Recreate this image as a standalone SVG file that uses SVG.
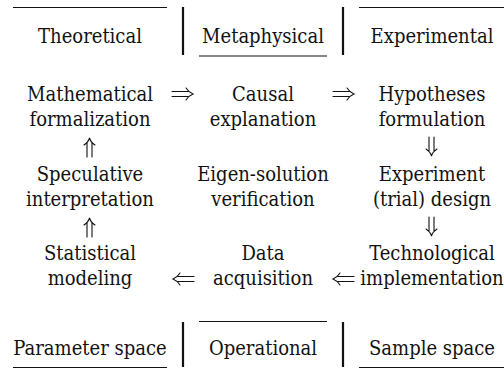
<svg xmlns="http://www.w3.org/2000/svg" width="504" height="369" viewBox="0 0 504 369">
<style>
text{font-family:"DejaVu Serif Condensed","DejaVu Serif",serif;font-stretch:condensed;font-size:20px;fill:#111;text-anchor:middle}
.rule{stroke:#111;stroke-width:1.2;fill:none}
.bar{stroke:#111;stroke-width:2.2;fill:none}
.arr{stroke:#111;stroke-width:1.1;fill:none;stroke-linecap:round}
</style>
<rect width="504" height="369" fill="#fff"/>
<g id="header">
  <line class="rule" x1="13" y1="7.5" x2="167" y2="7.5"/>
  <line class="bar" x1="183" y1="7" x2="183" y2="55"/>
  <line class="rule" x1="199" y1="56" x2="327" y2="56"/>
  <line class="bar" x1="343" y1="7" x2="343" y2="55"/>
  <line class="rule" x1="359" y1="7.5" x2="504" y2="7.5"/>
  <text x="90" y="43">Theoretical</text>
  <text x="263" y="43">Metaphysical</text>
  <text x="432" y="43">Experimental</text>
</g>
<g id="footer">
  <line class="rule" x1="13" y1="367.5" x2="167" y2="367.5"/>
  <line class="bar" x1="183" y1="322" x2="183" y2="367"/>
  <line class="rule" x1="199" y1="321.5" x2="327" y2="321.5"/>
  <line class="bar" x1="343" y1="322" x2="343" y2="367"/>
  <line class="rule" x1="359" y1="367.5" x2="504" y2="367.5"/>
  <text x="90" y="355">Parameter space</text>
  <text x="263" y="355">Operational</text>
  <text x="432" y="355">Sample space</text>
</g>
<g id="mathematical-formalization"><text x="90" y="101">Mathematical</text><text x="90" y="126">formalization</text></g>
<g id="causal-explanation"><text x="263" y="101">Causal</text><text x="263" y="126">explanation</text></g>
<g id="hypotheses-formulation"><text x="432" y="101">Hypotheses</text><text x="432" y="126">formulation</text></g>
<g id="speculative-interpretation"><text x="90" y="181">Speculative</text><text x="90" y="206">interpretation</text></g>
<g id="eigen-solution-verification"><text x="263" y="181">Eigen-solution</text><text x="263" y="206">verification</text></g>
<g id="experiment-design"><text x="432" y="181">Experiment</text><text x="432" y="206">(trial) design</text></g>
<g id="statistical-modeling"><text x="90" y="260">Statistical</text><text x="90" y="285">modeling</text></g>
<g id="data-acquisition"><text x="263" y="260">Data</text><text x="263" y="285">acquisition</text></g>
<g id="technological-implementation"><text x="432" y="260">Technological</text><text x="432" y="285">implementation</text></g>
<g id="connectors">
  <path class="arr" d="M172 91.5H188M172 96.5H188M186 88Q189 92.5 193 94Q189 95.5 186 100"/>
  <path class="arr" d="M333 91.5H349M333 96.5H349M347 88Q350 92.5 354 94Q350 95.5 347 100"/>
  <path class="arr" d="M194 276.5H178M194 281.5H178M180 273Q177 277.5 173 279Q177 280.5 180 285"/>
  <path class="arr" d="M354 276.5H338M354 281.5H338M340 273Q337 277.5 333 279Q337 280.5 340 285"/>
  <path class="arr" d="M87 157V143M92 157V143M84 145Q88.5 142 89.5 138Q90.5 142 95 145"/>
  <path class="arr" d="M87 237V223M92 237V223M84 225Q88.5 222 89.5 218Q90.5 222 95 225"/>
  <path class="arr" d="M429 137V151M434 137V151M426 149Q430.5 152 431.5 156Q432.5 152 437 149"/>
  <path class="arr" d="M429 217V231M434 217V231M426 229Q430.5 232 431.5 236Q432.5 232 437 229"/>
</g>
</svg>
